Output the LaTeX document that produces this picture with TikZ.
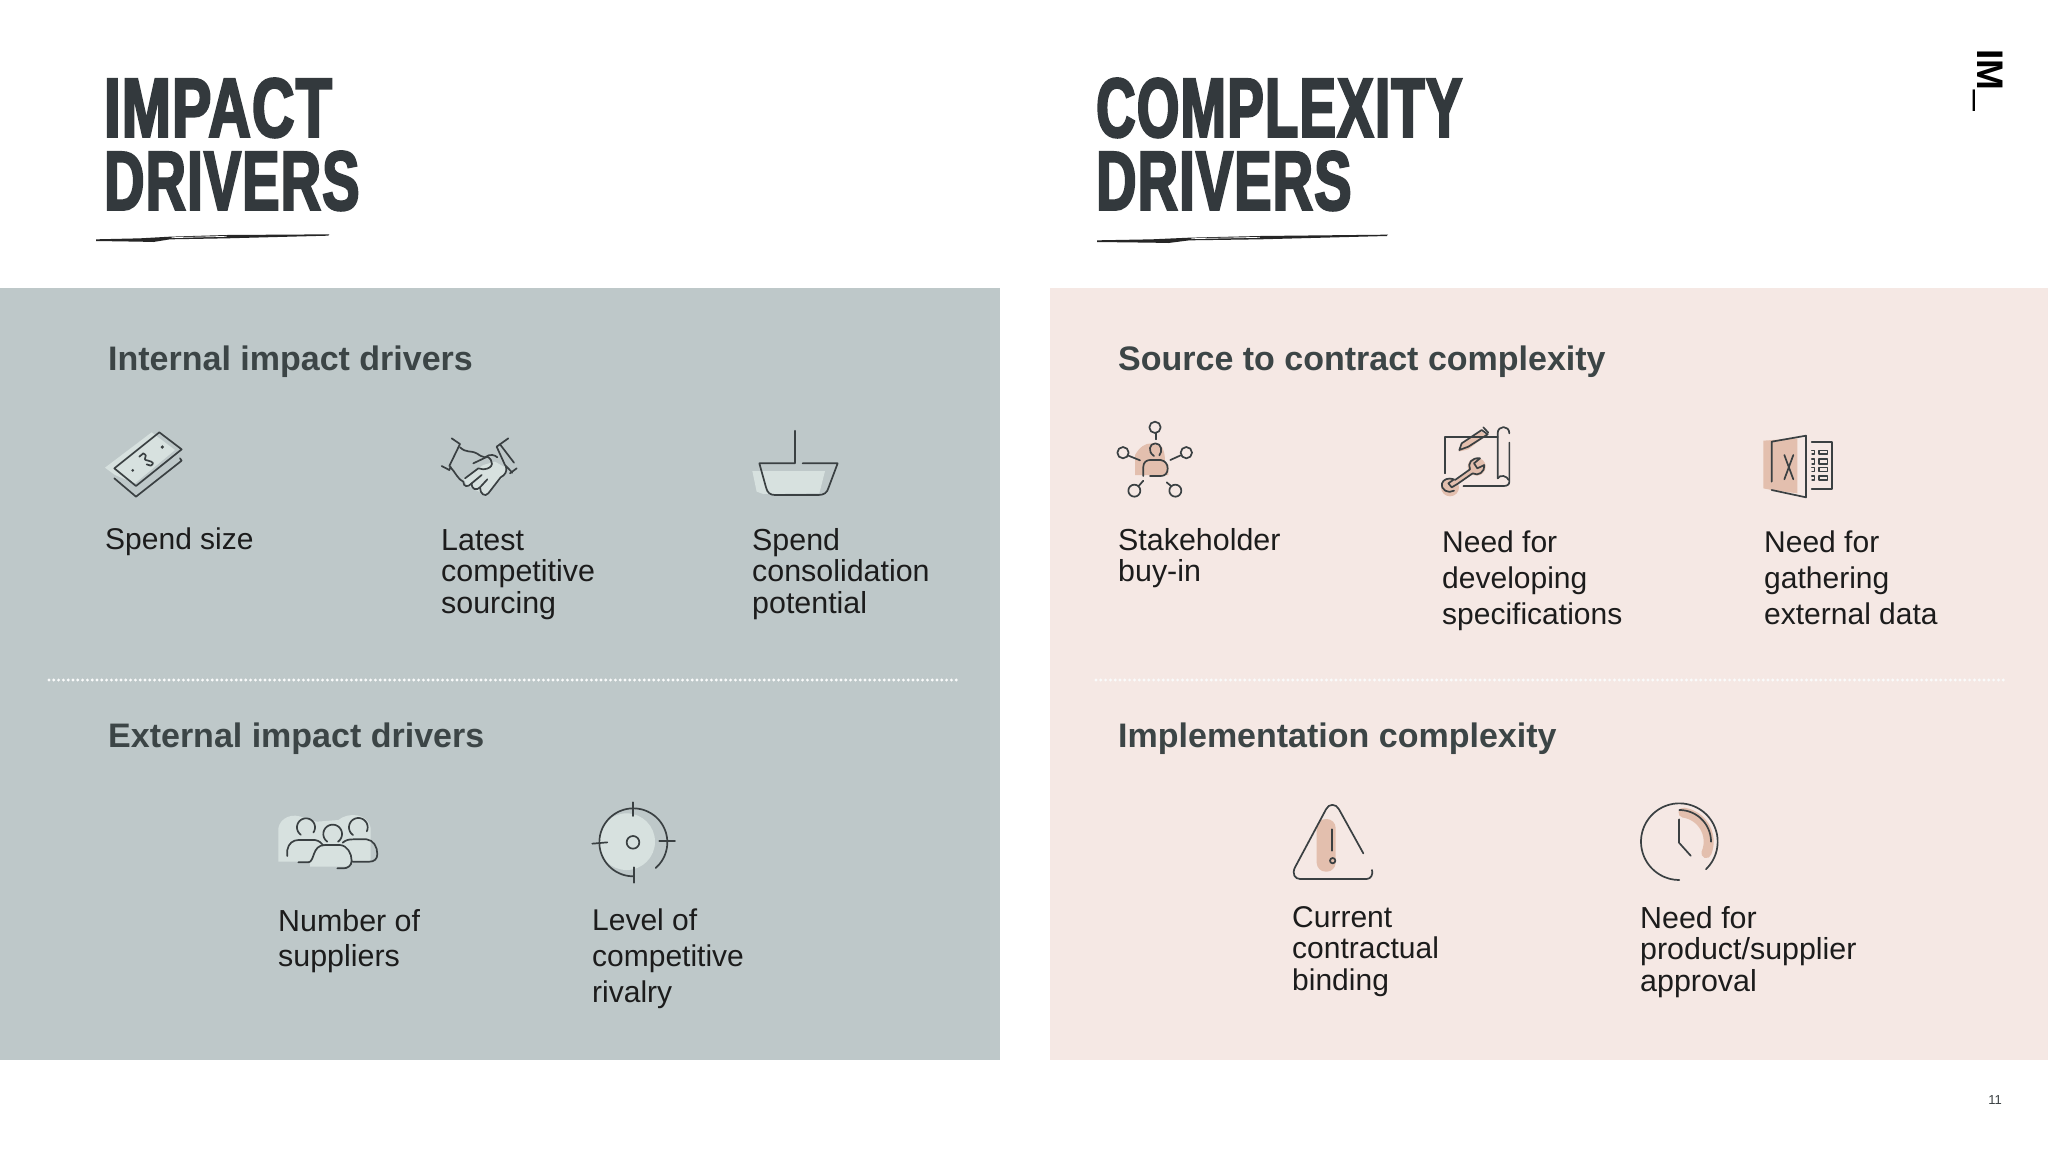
\documentclass[tikz,border=0pt]{standalone}
\usepackage{fontspec}
\setmainfont{Liberation Sans}
\newfontfamily\titlefont[FakeStretch=0.66,FakeBold=2.6,LetterSpace=1.5]{Liberation Sans Bold}
\definecolor{panelL}{HTML}{BEC8C9}
\definecolor{panelR}{HTML}{F5E8E4}
\definecolor{ink}{HTML}{3A4042}
\definecolor{titleink}{HTML}{33393D}
\definecolor{headink}{HTML}{3C4546}
\definecolor{body}{HTML}{1C1C1C}
\definecolor{fillL}{HTML}{D7E1DF}
\definecolor{fillR}{HTML}{E3BFAE}
\tikzset{
  ico/.style={draw=ink,line width=1.7pt,line cap=round,line join=round},
  titlenode/.style={anchor=north west,inner sep=0pt,align=left,text=titleink,font=\titlefont\fontsize{84}{73}\selectfont},
  headnode/.style={anchor=base west,inner sep=0pt,text=headink,font=\bfseries\fontsize{34}{40}\selectfont},
  lbl/.style={anchor=north west,inner sep=0pt,align=left,text=body,font=\fontsize{30.4}{31.5}\selectfont},
  lblwide/.style={anchor=north west,inner sep=0pt,align=left,text=body,font=\fontsize{30}{36}\selectfont},
  dotline/.style={draw=white!92!panelL,line width=3.2pt,line cap=round,dash pattern=on 0pt off 4.8pt},
}
\newcommand{\arcp}[6][]{\draw[ico,#1] plot[smooth,domain=#5:#6,samples=40] ({#2+#4*cos(\x)},{#3+#4*sin(\x)});}
\begin{document}
\begin{tikzpicture}[x=1pt,y=-1pt]
\useasboundingbox (0,0) rectangle (2048,1152);
\fill[white] (0,0) rectangle (2048,1152);
\fill[panelL] (0,288) rectangle (1000,1060);
\fill[panelR] (1050,288) rectangle (2048,1060);
% titles
\node[titlenode] (t1) at (104,78) {\scalebox{1.06}[1]{IMPACT}\\\scalebox{1.005}[1]{DRIVERS}};
\node[titlenode] (t2) at (1096,78) {\scalebox{0.985}[1]{COMPLEXITY}\\\scalebox{1.005}[1]{DRIVERS}};
% brush strokes
\begin{scope}[shift={(80,60)},scale=1/3]
\fill[black!85] (48,538) -- (180,535) -- (270,530) -- (440,525) -- (748,523) -- (745,527) -- (440,535) -- (270,538) -- (220,546) -- (180,545) -- (48,543) -- cycle;
\draw[white,line width=.7pt] (275,533) -- (440,529);
\end{scope}
\begin{scope}[shift={(1097,60)},xscale=0.4157,yscale=1/3,shift={(-48,0)}]
\fill[black!85] (48,541) -- (180,538) -- (270,533) -- (440,528) -- (748,524) -- (745,528) -- (440,538) -- (270,541) -- (220,549) -- (180,548) -- (48,546) -- cycle;
\draw[white,line width=.7pt] (275,536) -- (440,532);
\end{scope}
% logo
\node[anchor=base west,rotate=-90,inner sep=0pt,font=\fontsize{37}{37}\selectfont,text=black] (logo) at (1977,49) {\bfseries IM\mdseries\raisebox{.09em}{\_}};
\node[inner sep=0pt,font=\fontsize{13}{13}\selectfont,text=ink] (pg) at (1995,1100) {11};
% dotted lines
\draw[dotline] (49,680) -- (958,680);
\draw[dotline] (1096,680) -- (2005,680);
% headings
\node[headnode] (h1) at (108,370) {Internal impact drivers};
\node[headnode] (h2) at (108,747) {External impact drivers};
\node[headnode] (h3) at (1118,370) {Source to contract complexity};
\node[headnode] (h4) at (1118,747) {Implementation complexity};
% labels
\node[lbl,font=\fontsize{30}{31.5}\selectfont] (a1) at (105,528) {Spend size};
\node[lbl] (a2) at (441,529) {Latest\\competitive\\sourcing};
\node[lbl] (a3) at (752,528) {Spend\\consolidation\\potential};
\node[lbl] (b1) at (278,909) {Number of\\[4pt]suppliers};
\node[lblwide] (b2) at (592,909) {Level of\\competitive\\rivalry};
\node[lbl] (c1) at (1118,528) {Stakeholder\\buy-in};
\node[lblwide] (c2) at (1442,531) {Need for\\developing\\specifications};
\node[lblwide] (c3) at (1764,531) {Need for\\gathering\\external data};
\node[lbl,font=\fontsize{30}{31.5}\selectfont] (d1) at (1292,906) {Current\\contractual\\binding};
\node[lbl] (d2) at (1640,906) {Need for\\product/supplier\\approval};
% banknote
\begin{scope}[shift={(80,400)},scale=1/3]
\fill[fillL] (75,203) -- (215,97) -- (285,150) -- (165,250) -- (105,225) -- cycle;
\draw[ico] (103,205) -- (238,97) -- (305,148) -- (168,258) -- cycle;
\draw[ico] (103,235) -- (168,290) -- (305,182) -- (300,175);
\fill[ink] (247,141) circle (5.5);
\fill[ink] (158,211) circle (4.5);
\draw[ico] (178,170) -- (190,160) .. controls (210,170) and (180,178) .. (205,182) .. controls (222,186) and (222,192) .. (212,197) -- (200,193);
% handshake
\fill[fillL] (1150,235) -- (1210,195) -- (1245,185) -- (1280,205) -- (1265,235) -- (1215,285) -- (1160,255) -- cycle;
\draw[ico] (1115,115) -- (1140,132) -- (1108,198);
\draw[ico] (1085,198) -- (1108,210) -- (1112,200);
\draw[ico] (1285,115) -- (1250,140) -- (1275,195) -- (1297,218);
\draw[ico] (1260,133) -- (1302,188);
\draw[ico] (1310,205) -- (1290,220);
\draw[ico] (1140,142) .. controls (1160,160) and (1170,150) .. (1190,160) .. controls (1200,165) and (1205,172) .. (1215,172) .. controls (1230,160) and (1245,165) .. (1252,172);
\draw[ico] (1180,190) -- (1222,170) .. controls (1240,180) and (1245,205) .. (1210,208) -- (1195,205) -- (1155,235);
\draw[ico] (1110,200) .. controls (1125,215) and (1135,240) .. (1150,245) .. controls (1150,262) and (1165,262) .. (1175,250) -- (1205,225);
\draw[ico] (1175,250) .. controls (1175,270) and (1190,272) .. (1200,262) -- (1222,238);
\draw[ico] (1200,262) .. controls (1200,282) and (1215,292) .. (1225,280) -- (1262,232) .. controls (1275,225) and (1282,215) .. (1278,200);
\end{scope}
% basket
\begin{scope}[shift={(700,400)},scale=1/3]
\fill[fillL] (157,213) -- (375,213) -- (358,280) -- (190,282) -- (170,275) -- cycle;
\draw[ico] (285,92) -- (285,190) -- (178,190) -- (198,262) .. controls (202,278) and (210,285) .. (225,285) -- (355,285) .. controls (372,285) and (382,278) .. (386,262) -- (413,190) -- (308,190);
\end{scope}
% stakeholder
\begin{scope}[shift={(1090,400)},scale=1/3]
\fill[fillR] (135,225) -- (135,165) .. controls (150,140) and (165,130) .. (185,130) -- (200,130) .. controls (220,135) and (225,160) .. (225,185) -- (235,195) -- (235,225) -- cycle;
\draw[ico] (195,82) circle (17);
\draw[ico] (99,158) circle (17);
\draw[ico] (289,158) circle (17);
\draw[ico] (133,272) circle (18);
\draw[ico] (256,272) circle (18);
\draw[ico] (197,100) -- (197,118);
\draw[ico] (113,166) -- (150,181);
\draw[ico] (272,166) -- (241,180);
\draw[ico] (146,258) -- (160,242);
\draw[ico] (243,258) -- (230,247);
\draw[ico] (192,168) .. controls (172,155) and (178,130) .. (196,130) .. controls (215,130) and (218,155) .. (208,166);
\draw[ico] (160,228) -- (160,200) .. controls (160,187) and (170,180) .. (180,180) -- (212,180) .. controls (225,182) and (233,192) .. (233,205) .. controls (233,220) and (225,228) .. (212,228) -- (180,228);
\end{scope}
% blueprint + spreadsheet
\begin{scope}[shift={(1420,400)},scale=1/3]
\fill[fillR] (116,155) -- (125,133) -- (180,92) -- (200,105) -- (145,148) -- cycle;
\fill[fillR] (90,262) circle (27);
\fill[fillR] (170,200) circle (27);
\draw[fillR,line width=4pt] (95,258) -- (165,205);
\draw[ico] (75,220) -- (75,110) -- (233,110);
\draw[ico] (233,235) -- (233,100) .. controls (233,75) and (268,75) .. (268,100);
\draw[ico] (268,128) -- (268,245) .. controls (268,255) and (260,258) .. (250,258) -- (130,258);
\draw[ico] (233,235) .. controls (240,222) and (262,228) .. (266,240);
\draw[ico] (118,150) -- (125,130) -- (185,90) -- (203,103) -- (145,140) -- cycle;
\draw[ico] (190,82) -- (205,98);
\draw[ico] (102,272) .. controls (85,282) and (62,270) .. (66,250) .. controls (70,238) and (85,232) .. (102,238) -- (85,250) -- (95,262) -- (112,252);
\draw[ico] (105,240) -- (150,208) .. controls (142,190) and (155,172) .. (180,175) -- (162,190) -- (172,205) -- (193,195) .. controls (195,215) and (175,230) .. (158,220) -- (112,252);
% spreadsheet
\fill[fillR] (1030,122) -- (1132,115) -- (1132,280) -- (1055,270) -- (1030,265) -- cycle;
\draw[ico] (1055,245) -- (1055,125) -- (1158,107) -- (1158,292) -- (1055,270);
\draw[ico] (1093,165) -- (1120,238);
\draw[ico] (1120,165) -- (1093,238);
\draw[ico] (1175,127) -- (1237,127) -- (1237,268) -- (1175,268);
\draw[ico,line width=1.3pt] (1197,152) rectangle (1222,162);
\draw[ico,line width=1.3pt] (1197,177) rectangle (1222,192);
\draw[ico,line width=1.3pt] (1197,203) rectangle (1222,215);
\draw[ico,line width=1.3pt] (1197,228) rectangle (1222,240);
\draw[ico,line width=1.3pt] (1175,152) -- (1184,152) -- (1184,162) -- (1176,162);
\draw[ico,line width=1.3pt] (1175,177) -- (1184,177) -- (1184,192) -- (1176,192);
\draw[ico,line width=1.3pt] (1175,203) -- (1184,203) -- (1184,215) -- (1176,215);
\draw[ico,line width=1.3pt] (1175,228) -- (1184,228) -- (1184,240) -- (1176,240);
\end{scope}
% people + target
\begin{scope}[shift={(260,790)},scale=1/3]
\fill[fillL] (55,215) -- (55,115) .. controls (60,85) and (95,65) .. (135,85) -- (170,95) -- (235,90) .. controls (265,65) and (325,70) .. (332,115) -- (332,215) -- (270,215) -- (270,230) -- (150,230) -- (150,215) -- cycle;
\arcp{138}{112}{27}{125}{395}
\arcp{218}{132}{28}{125}{415}
\arcp{295}{112}{28}{125}{385}
\draw[ico] (82,198) -- (82,180) .. controls (85,160) and (100,150) .. (115,150) -- (165,150) .. controls (178,152) and (185,160) .. (190,166);
\draw[ico] (115,217) -- (145,217) .. controls (165,215) and (155,165) .. (195,165) -- (240,165) .. controls (262,167) and (275,190) .. (275,212) .. controls (275,228) and (262,235) .. (250,235) -- (232,235);
\draw[ico] (248,158) .. controls (258,150) and (265,148) .. (280,148) -- (320,148) .. controls (340,150) and (352,170) .. (352,192) .. controls (352,208) and (342,215) .. (328,215) -- (278,215);
% target
\fill[fillL] (1100,155) circle (85);
\arcp{1120}{157}{102}{-270}{49}
\draw[ico] (1119,157) circle (19);
\draw[ico] (1118,37) -- (1118,78);
\draw[ico] (1198,152) -- (1245,152);
\draw[ico] (997,161) -- (1042,157);
\draw[ico] (1123,232) -- (1123,278);
\end{scope}
% warning + clock
\begin{scope}[shift={(1270,790)},scale=1/3]
\fill[fillR,rounded corners=9pt] (140,87) rectangle (197,245);
\draw[ico] (280,190) -- (207,58) .. controls (198,40) and (176,40) .. (168,58) -- (75,232) .. controls (65,252) and (75,267) .. (90,267) -- (290,267) .. controls (303,267) and (310,252) .. (306,240);
\draw[ico] (186,118) -- (186,182);
\draw[ico] (188,212) circle (8);
\draw[fillR,line width=10pt,line cap=round] plot[smooth,domain=-82:23,samples=30] ({1228+88*cos(\x)},{155+88*sin(\x)});
\arcp{1228}{155}{115}{90}{406}
\arcp{1228}{155}{95}{-90}{0}
\draw[ico] (1227,88) -- (1227,158) -- (1262,197);
\end{scope}
\end{tikzpicture}
\end{document}
